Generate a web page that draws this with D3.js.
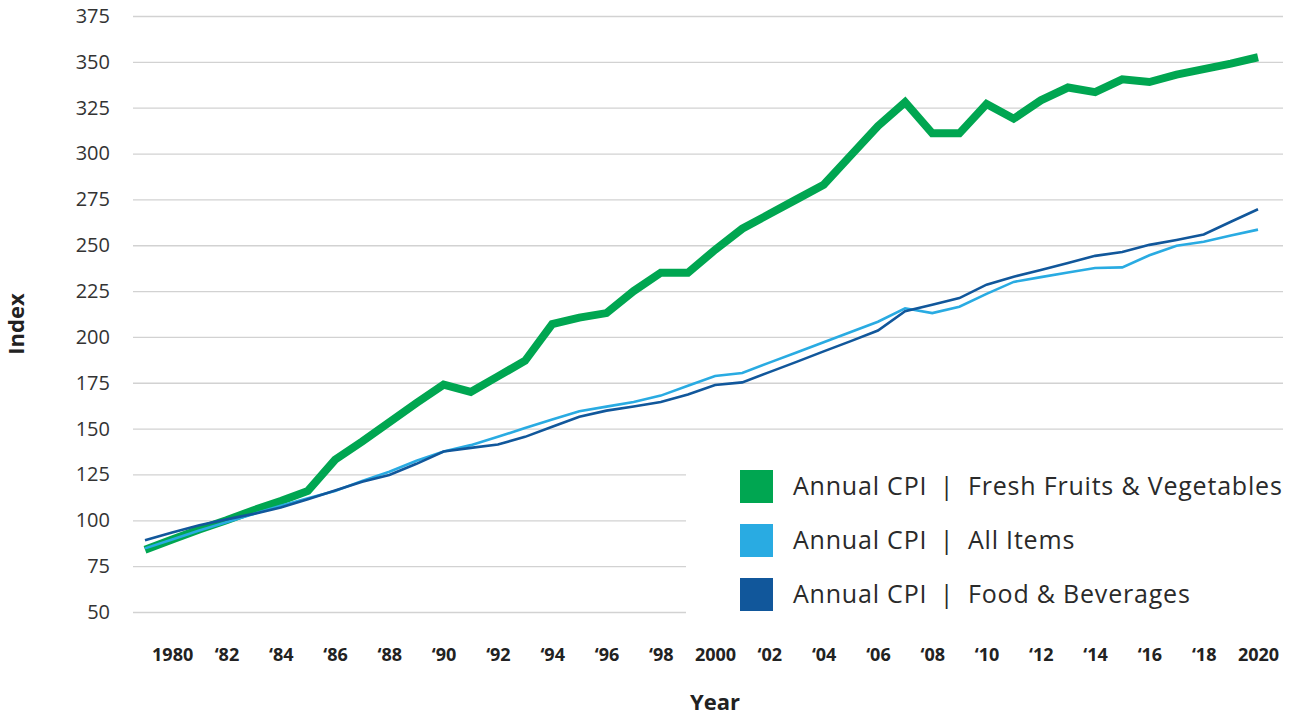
<!DOCTYPE html>
<html>
<head>
<meta charset="utf-8">
<script src="https://cdn.jsdelivr.net/npm/d3@7"></script>
<style>
  body { margin: 0; background: #fff; }
  svg { display: block; font-family: "Open Sans", "Lato", sans-serif; }
</style>
</head>
<body>
<script>
// years on the x axis
var years = [1979, 1980, 1981, 1982, 1983, 1984, 1985, 1986, 1987, 1988, 1989,
  1990, 1991, 1992, 1993, 1994, 1995, 1996, 1997, 1998, 1999,
  2000, 2001, 2002, 2003, 2004, 2005, 2006, 2007, 2008, 2009,
  2010, 2011, 2012, 2013, 2014, 2015, 2016, 2017, 2018, 2019, 2020];

// Annual CPI | Fresh Fruits & Vegetables
var freshProduce = [84, 89.5, 95, 100, 105.5, 110.5, 116, 133, 143, 153.5, 164,
  174, 170, 178.5, 187, 207, 210.5, 213, 225, 235, 235,
  247.5, 259, 267, 275, 283, 299, 315, 328, 311, 311,
  327, 319, 329, 336, 333.5, 340.5, 339, 343, 346, 349, 352.5];

// Annual CPI | All Items
var allItems = [84.7, 89.5, 94.5, 99, 103.5, 108, 112, 116, 121.5, 126.5, 132.5,
  137.5, 141, 145.5, 150.3, 155, 159.5, 162, 164.5, 168, 173.4,
  178.7, 180.3, 186, 191.5, 197.1, 202.7, 208.3, 215.6, 213, 216.5,
  223.5, 230, 232.6, 235.1, 237.6, 237.9, 244.5, 249.7, 251.9, 255.3, 258.5];

// Annual CPI | Food & Beverages
var foodBev = [89.1, 93.3, 97.3, 100.5, 103.5, 107, 111.5, 116.3, 121, 124.7, 130.8,
  137.5, 139.5, 141.3, 145.5, 151, 156.5, 159.8, 162.1, 164.5, 168.6,
  173.8, 175.2, 180.8, 186.4, 192.1, 197.7, 203.5, 214, 217.6, 221.2,
  228.5, 232.8, 236.5, 240.3, 244.2, 246.3, 250.2, 252.9, 255.9, 262.8, 269.6];

var yTicks = [50, 75, 100, 125, 150, 175, 200, 225, 250, 275, 300, 325, 350, 375];
var xTicks = [1980, 1982, 1984, 1986, 1988, 1990, 1992, 1994, 1996, 1998, 2000,
  2002, 2004, 2006, 2008, 2010, 2012, 2014, 2016, 2018, 2020];
var xTickLabels = ["1980", "\u201882", "\u201884", "\u201886", "\u201888", "\u201890", "\u201892",
  "\u201894", "\u201896", "\u201898", "2000", "\u201802", "\u201804", "\u201806", "\u201808",
  "\u201810", "\u201812", "\u201814", "\u201816", "\u201818", "2020"];

var seriesNames = ["Fresh Fruits & Vegetables", "All Items", "Food & Beverages"];
var seriesColors = ["#00a651", "#29abe2", "#11579b"];

var W = 1289, H = 715;
var gridLeft = 133, gridRight = 1283;

var svg = d3.select("body").append("svg")
  .attr("width", W)
  .attr("height", H);

var x = d3.scaleLinear().domain([1979, 2020]).range([145, 1258]);
var y = d3.scaleLinear().domain([50, 375]).range([612, 16]);

// grid + y labels
var yAxis = d3.axisLeft(y)
  .tickValues(yTicks)
  .tickSize(-(gridRight - gridLeft))
  .tickPadding(23);

var gy = svg.append("g")
  .attr("transform", "translate(" + gridLeft + ",0)")
  .call(yAxis);
gy.select(".domain").remove();
gy.selectAll(".tick line").attr("stroke", "#d2d2d2").attr("stroke-width", 1.3);
gy.selectAll(".tick text")
  .attr("fill", "#333")
  .style("font-size", "20px")
  .style("font-family", "'Open Sans', sans-serif");

// x labels
var xAxis = d3.axisBottom(x)
  .tickValues(xTicks)
  .tickSize(0)
  .tickFormat(function(d, i) { return xTickLabels[i]; });

var gx = svg.append("g")
  .attr("transform", "translate(0,661)")
  .call(xAxis);
gx.select(".domain").remove();
gx.selectAll(".tick text")
  .attr("y", 0)
  .attr("dy", null)
  .attr("fill", "#222")
  .style("font-size", "18px")
  .style("font-weight", "bold")
  .style("font-family", "'Open Sans', sans-serif");

// white panel behind legend
svg.append("rect")
  .attr("x", 686).attr("y", 450)
  .attr("width", W - 686).attr("height", 175)
  .attr("fill", "#fff");

// lines
var seriesData = [freshProduce, allItems, foodBev];
var widths = [8, 2.6, 2.6];
var line = d3.line()
  .x(function(d, i) { return x(years[i]); })
  .y(function(d) { return y(d); });

seriesData.forEach(function(s, k) {
  svg.append("path")
    .datum(s)
    .attr("fill", "none")
    .attr("stroke", seriesColors[k])
    .attr("stroke-width", widths[k])
    .attr("stroke-linejoin", "miter")
    .attr("d", line);
});

// legend
var legend = svg.append("g");
seriesNames.forEach(function(name, i) {
  var ly = 470 + i * 54;
  legend.append("rect")
    .attr("x", 740).attr("y", ly)
    .attr("width", 33).attr("height", 33)
    .attr("fill", seriesColors[i]);
  var t = legend.append("g")
    .attr("transform", "translate(0," + (ly + 25) + ")")
    .style("font-size", "25px")
    .style("letter-spacing", "0.8px")
    .attr("fill", "#2a2a2a");
  t.append("text").attr("x", 793).text("Annual CPI");
  t.append("text").attr("x", 947).attr("text-anchor", "middle").text("|");
  t.append("text").attr("x", 968).text(name);
});

// axis titles
svg.append("text")
  .attr("transform", "translate(24,324) rotate(-90)")
  .attr("text-anchor", "middle")
  .attr("fill", "#222")
  .style("font-size", "22px")
  .style("font-weight", "bold")
  .text("Index");

svg.append("text")
  .attr("x", 715).attr("y", 710)
  .attr("text-anchor", "middle")
  .attr("fill", "#222")
  .style("font-size", "22px")
  .style("font-weight", "bold")
  .text("Year");
</script>
</body>
</html>
